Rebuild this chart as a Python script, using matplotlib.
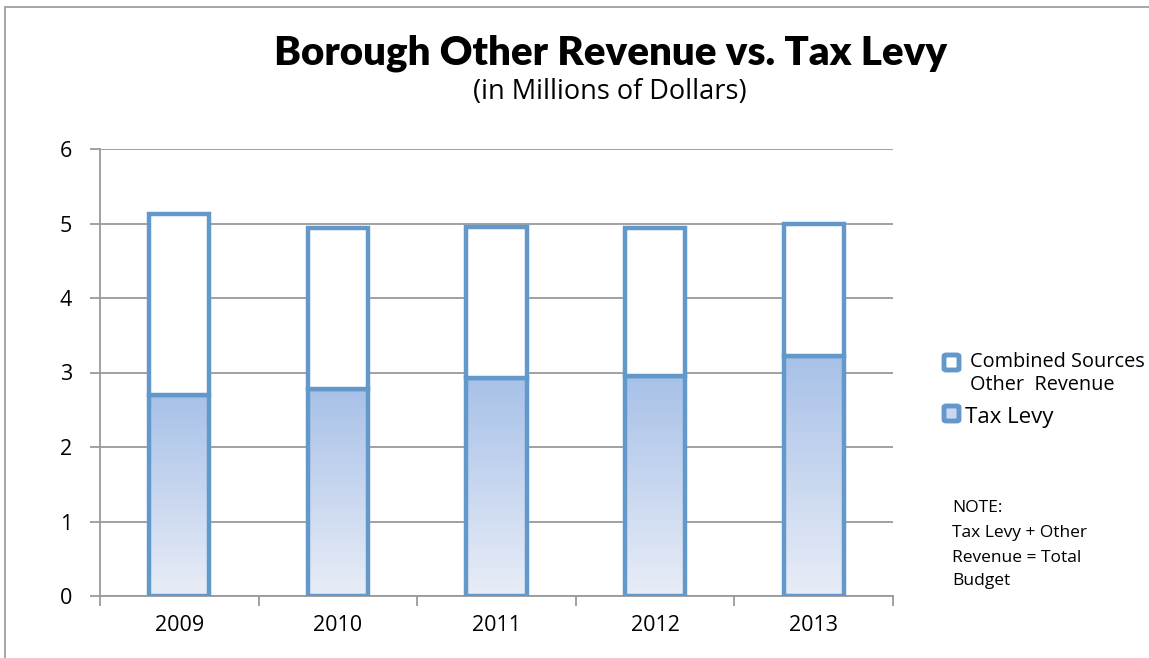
import numpy as np
import matplotlib
matplotlib.use('Agg')
import matplotlib.pyplot as plt
from matplotlib.patches import Rectangle, FancyBboxPatch
from matplotlib.colors import LinearSegmentedColormap

# ---- data (millions of dollars) ----
years = ['2009', '2010', '2011', '2012', '2013']
tax_levy = [2.70, 2.78, 2.93, 2.95, 3.22]
other_revenue = [2.43, 2.16, 2.02, 1.99, 1.77]

EDGE = '#6398cb'
GRID = '#9a9a9a'
W, H = 1149, 658

plt.rcParams['font.family'] = ['Open Sans', 'DejaVu Sans']

fig = plt.figure(figsize=(W / 100, H / 100), dpi=100)
ax = fig.add_axes([100 / W, 1 - 596 / H, 793 / W, 447 / H])

x = np.arange(len(years))
w = 0.38

# tax levy bars: gradient fill clipped to each bar
grad = LinearSegmentedColormap.from_list('g', ['#e8edf7', '#a8c1e8'])
bars_tax = ax.bar(x, tax_levy, w, facecolor='none', edgecolor=EDGE, linewidth=3.2, zorder=4)
for b in bars_tax:
    x0, y0 = b.get_x(), b.get_y()
    img = ax.imshow(np.linspace(0, 1, 100).reshape(-1, 1), cmap=grad, aspect='auto',
                    origin='lower', extent=[x0, x0 + b.get_width(), y0, y0 + b.get_height()],
                    zorder=3)
    img.set_clip_path(b)

ax.bar(x, other_revenue, w, bottom=tax_levy, facecolor='white', edgecolor=EDGE,
       linewidth=3.2, zorder=4)

ax.set_xlim(-0.5, len(years) - 0.5)
ax.set_ylim(0, 6)
ax.set_yticks(range(7))
ax.yaxis.grid(True, color=GRID, linewidth=1.3, zorder=0)
ax.set_axisbelow(True)

ax.set_xticks(x)
ax.set_xticklabels(years)
ax.set_xticks(np.arange(-0.5, len(years)), minor=True)
ax.tick_params(axis='x', which='major', length=0, pad=14, labelsize=15.5)
ax.tick_params(axis='x', which='minor', length=7, color=GRID, width=1.3)
ax.tick_params(axis='y', length=7, color=GRID, width=1.3, pad=13, labelsize=15.5)

for s in ['top', 'right']:
    ax.spines[s].set_visible(False)
for s in ['left', 'bottom']:
    ax.spines[s].set_color(GRID)
    ax.spines[s].set_linewidth(1.3)

# ---- titles ----
fig.text(611 / W, 1 - 53 / H, 'Borough Other Revenue vs. Tax Levy', ha='center', va='center',
         fontsize=29, fontweight='heavy', family=['Lato', 'DejaVu Sans'])
fig.text(610 / W, 1 - 92 / H, '(in Millions of Dollars)', ha='center', va='center', fontsize=19.5)


# ---- legend ----
def legend_box(px, py, face):
    fig.add_artist(FancyBboxPatch((px / W, 1 - py / H), 15 / W, 15 / H,
                                  boxstyle='round,pad=0,rounding_size=0.002',
                                  transform=fig.transFigure, facecolor=face, edgecolor=EDGE,
                                  linewidth=3.5))


def line(px, py, s, size):
    fig.text(px / W, 1 - py / H, s, ha='left', va='baseline', fontsize=size)


legend_box(944, 370, 'white')
line(970, 367, 'Combined Sources', 14.3)
line(970, 390, 'Other  Revenue', 14.3)
legend_box(944, 421, '#c9d7ef')
line(965, 423, 'Tax Levy', 16)

for py, s in zip([512, 537, 562, 585], ['NOTE:', 'Tax Levy + Other', 'Revenue = Total', 'Budget']):
    line(952, py, s, 12.5)

# outer border
fig.add_artist(Rectangle((5 / W, -0.05), 1.1, 1 - 7 / H + 0.05, transform=fig.transFigure,
                         facecolor='none', edgecolor='#a0a0a0', linewidth=1.3))

fig.savefig('out.png', dpi=100)
